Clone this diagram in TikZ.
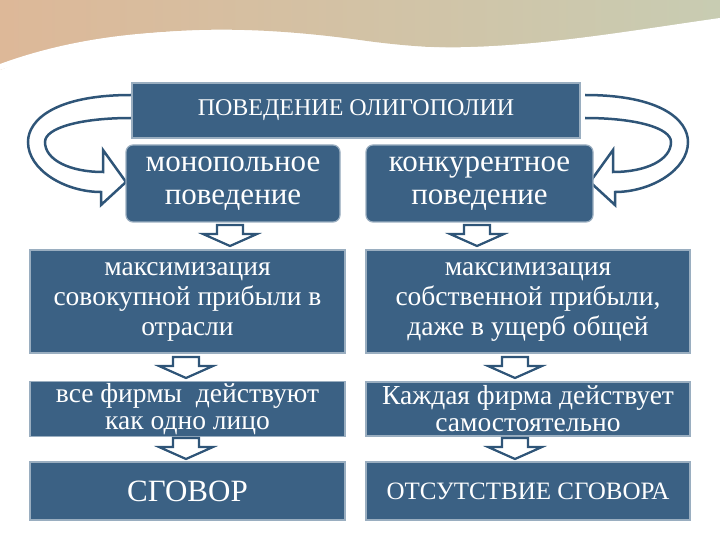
\documentclass[tikz,border=0pt]{standalone}
\usepackage{fontspec}
\setmainfont{Liberation Serif}
\definecolor{bx}{HTML}{3B6184}
\definecolor{bd}{HTML}{9AAEC0}
\definecolor{ln}{HTML}{2F5578}
\definecolor{peach}{HTML}{DDB898}
\definecolor{sage}{HTML}{C8CCB2}
\begin{document}
\begin{tikzpicture}[x=1pt,y=-1pt,
  box/.style={fill=bx,draw=bd,line width=1.2pt,text=white,align=center,inner sep=2pt},
  rbox/.style={box,rounded corners=7pt},
  dnarrow/.pic={\draw[ln,line width=2.2pt,fill=white,line join=miter]
     (-13,-11)--(13,-11)--(13,-2)--(27,-2)--(0,10)--(-27,-2)--(-13,-2)--cycle;},
  curv/.style={draw=ln,line width=2.5pt,fill=white,line join=miter}]
\useasboundingbox (0,0) rectangle (720,540);
% top decoration
\shade[left color=peach,right color=sage] (0,0) -- (720,0) -- (720,20) .. controls (600,40) and (500,60) .. (360,40) .. controls (250,25) and (120,20) .. (0,70) -- cycle;
\fill[white] (0,75) .. controls (150,30) and (260,50) .. (360,58) .. controls (500,70) and (620,45) .. (720,25) -- (720,40) .. controls (600,62) and (480,78) .. (360,68) .. controls (250,60) and (140,48) .. (0,90) -- cycle;
\fill[white] (0,64) .. controls (120,20) and (250,28) .. (360,42) .. controls (480,58) and (600,35) .. (720,18) -- (720,24) .. controls (600,42) and (480,62) .. (360,48) .. controls (250,34) and (120,28) .. (0,70) -- cycle;
% curved arrows
\path[curv] (131,95) .. controls (55,95) and (28,120) .. (28,142) .. controls (28,170) and (65,192) .. (101,192) -- (101,205) -- (126,182) -- (103,150) -- (103,172) .. controls (70,172) and (45,160) .. (45,142) .. controls (45,128) and (80,118) .. (131,118);
\begin{scope}[xshift=716pt,xscale=-1]
\path[curv] (131,95) .. controls (55,95) and (28,120) .. (28,142) .. controls (28,170) and (65,192) .. (101,192) -- (101,205) -- (126,182) -- (103,150) -- (103,172) .. controls (70,172) and (45,160) .. (45,142) .. controls (45,128) and (80,118) .. (131,118);
\end{scope}
% boxes
\node[box,minimum width=448pt,minimum height=55pt,font=\fontsize{24}{26}\selectfont] (top) at (356,110.5) {ПОВЕДЕНИЕ ОЛИГОПОЛИИ};
\node[rbox,minimum width=214pt,minimum height=77pt,font=\fontsize{31}{33}\selectfont] (mon) at (233,183.5) {монопольное\\поведение};
\node[rbox,minimum width=227pt,minimum height=77pt,font=\fontsize{31}{33}\selectfont] (kon) at (479.5,183.5) {конкурентное\\поведение};
\node[box,minimum width=315pt,minimum height=103pt,font=\fontsize{27.5}{30}\selectfont] (l2) at (187.5,301.5) {максимизация\\совокупной прибыли в\\отрасли};
\node[box,minimum width=324pt,minimum height=103pt,font=\fontsize{27.5}{30}\selectfont] (r2) at (528,301.5) {максимизация\\собственной прибыли,\\даже в ущерб общей};
\node[box,minimum width=315pt,minimum height=54pt,font=\fontsize{27.5}{27}\selectfont] (l3) at (187.5,409) {все фирмы \ действуют\\как одно лицо};
\node[box,minimum width=324pt,minimum height=54pt,font=\fontsize{27.5}{27}\selectfont] (r3) at (528,409) {Каждая фирма действует\\самостоятельно};
\node[box,minimum width=315pt,minimum height=58pt,font=\fontsize{31}{32}\selectfont] (l4) at (187.5,491) {СГОВОР};
\node[box,minimum width=324pt,minimum height=58pt,font=\fontsize{25}{28}\selectfont] (r4) at (528,491) {ОТСУТСТВИЕ СГОВОРА};
% down arrows
\pic at (230,236) {dnarrow};
\pic at (477,236) {dnarrow};
\pic at (186,368) {dnarrow};
\pic at (515,368) {dnarrow};
\pic at (186,449) {dnarrow};
\pic at (515,449) {dnarrow};
\end{tikzpicture}
\end{document}
